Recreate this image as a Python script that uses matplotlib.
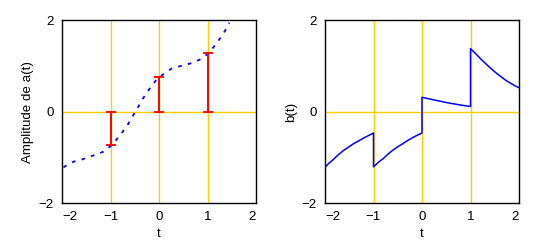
import matplotlib
matplotlib.use("Agg")
import matplotlib.pyplot as plt

plt.rcParams['font.family'] = ['Liberation Sans', 'DejaVu Sans']

# ---- data ----
a_t = [-1.97, -1.85, -1.72, -1.59, -1.44, -1.29, -1.15, -1.0, -0.89, -0.79, -0.65,
       -0.53, -0.27, -0.05, 0.03, 0.14, 0.26, 0.43, 0.58, 0.71, 0.84, 0.98, 1.10,
       1.18, 1.28, 1.37, 1.45]
a_v = [-1.22, -1.14, -1.08, -1.05, -0.99, -0.94, -0.88, -0.76, -0.63, -0.50, -0.30,
       -0.08, 0.39, 0.70, 0.77, 0.85, 0.94, 0.99, 1.03, 1.07, 1.135, 1.24, 1.375,
       1.48, 1.63, 1.78, 1.94]

stem_t = [-1, 0, 1]
stem_v = [-0.74, 0.76, 1.27]

b_t = [-2.0, -1.92, -1.84, -1.73, -1.63, -1.52, -1.42, -1.32, -1.22, -1.11, -1.0,
       -1.0, -0.9, -0.8, -0.7, -0.6, -0.5, -0.39, -0.29, -0.19, -0.1, 0.0,
       0.0, 0.26, 0.53, 0.80, 1.0,
       1.0, 1.11, 1.22, 1.32, 1.42, 1.52, 1.63, 1.73, 1.84, 1.92, 2.0]
b_v = [-1.22, -1.13, -1.06, -0.95, -0.86, -0.78, -0.71, -0.65, -0.59, -0.53, -0.47,
       -1.21, -1.11, -1.03, -0.93, -0.845, -0.77, -0.70, -0.63, -0.57, -0.52, -0.47,
       0.31, 0.25, 0.19, 0.14, 0.11,
       1.375, 1.26, 1.14, 1.04, 0.94, 0.85, 0.76, 0.68, 0.61, 0.56, 0.52]

xticks = [-2, -1, 0, 1, 2]
yticks = [-2, 0, 2]
ylabels = ["Amplitude de a(t)", "b(t)"]
xlabel = "t"

GOLD = '#FFCC00'
FS = 9.6

fig = plt.figure(figsize=(5.41, 2.47), dpi=100)
ax1 = fig.add_axes([62/541, 44/247, 194/541, 183/247])
ax2 = fig.add_axes([325/541, 44/247, 194/541, 183/247])

for ax, yl in zip([ax1, ax2], ylabels):
    ax.set_xlim(-2, 2)
    ax.set_ylim(-2, 2)
    for xv in [-1, 0, 1]:
        ax.axvline(xv, color=GOLD, lw=1.0, zorder=1)
    ax.axhline(0, color=GOLD, lw=1.0, zorder=1)
    ax.set_xticks(xticks)
    ax.set_yticks(yticks)
    ax.set_xticklabels([str(v).replace('-', '\u2212') for v in xticks])
    ax.set_yticklabels([str(v).replace('-', '\u2212') for v in yticks])
    ax.tick_params(length=0, labelsize=FS, pad=6)
    labs = ax.get_xticklabels()
    labs[0].set_ha('left')
    labs[-1].set_ha('right')
    ax.set_xlabel(xlabel, fontsize=FS, labelpad=3)
    for s in ax.spines.values():
        s.set_linewidth(1.0)
        s.set_color('black')

ax1.set_ylabel(ylabels[0], fontsize=FS, labelpad=3)
ax2.set_ylabel(ylabels[1], fontsize=FS, labelpad=3)

ax1.plot(a_t, a_v, color='#0000FF', lw=1.3, linestyle=(0, (2, 3.5)), zorder=3)
for t, v in zip(stem_t, stem_v):
    ax1.plot([t, t], [0, v], color='#FF0000', lw=1.4, zorder=4)
    ax1.plot([t, t], [0, v], color='#FF0000', lw=0, marker='_', ms=7, mew=1.3, zorder=4)

ax2.plot(b_t, b_v, color='#0000FF', lw=1.1, zorder=3)

fig.savefig('out.png', dpi=100)
